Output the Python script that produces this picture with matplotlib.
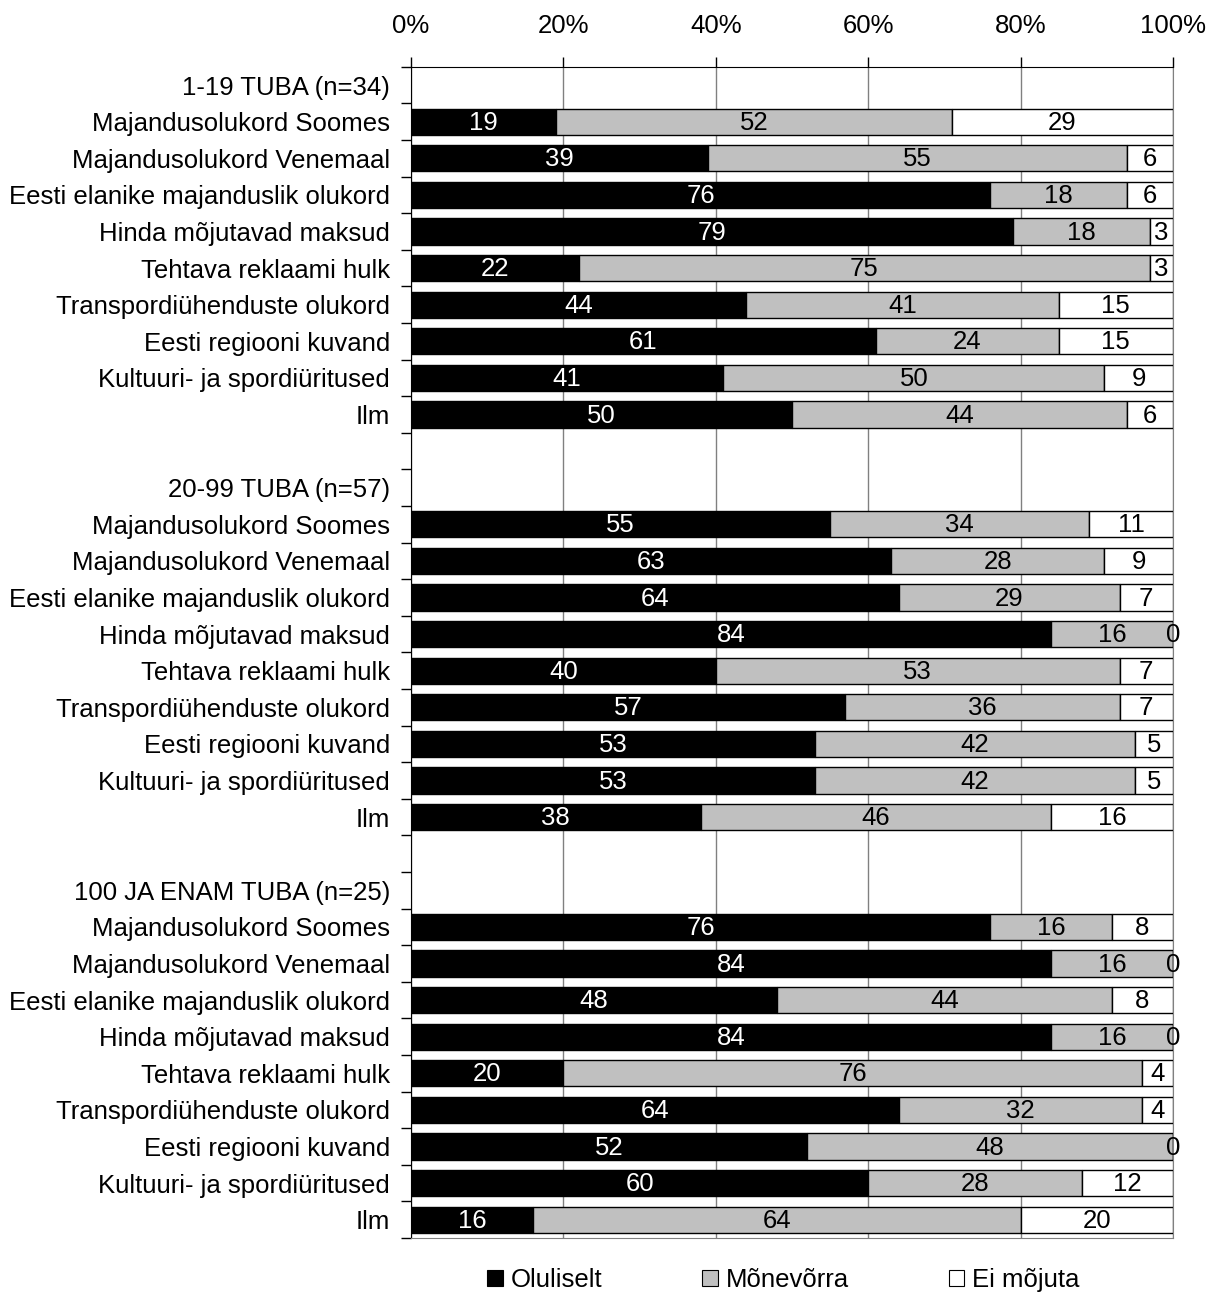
import matplotlib.pyplot as plt
from matplotlib.patches import Patch
import numpy as np

plt.rcParams['font.family'] = ['Liberation Sans', 'DejaVu Sans']

# data
groups = ['1-19 TUBA (n=34)', '20-99 TUBA (n=57)', '100 JA ENAM TUBA (n=25)']
items = ['Majandusolukord Soomes', 'Majandusolukord Venemaal',
         'Eesti elanike majanduslik olukord', 'Hinda mõjutavad maksud',
         'Tehtava reklaami hulk', 'Transpordiühenduste olukord',
         'Eesti regiooni kuvand', 'Kultuuri- ja spordiüritused', 'Ilm']
series_names = ['Oluliselt', 'Mõnevõrra', 'Ei mõjuta']

oluliselt = [[19, 39, 76, 79, 22, 44, 61, 41, 50],
             [55, 63, 64, 84, 40, 57, 53, 53, 38],
             [76, 84, 48, 84, 20, 64, 52, 60, 16]]
monevorra = [[52, 55, 18, 18, 75, 41, 24, 50, 44],
             [34, 28, 29, 16, 53, 36, 42, 42, 46],
             [16, 16, 44, 16, 76, 32, 48, 28, 64]]
ei_mojuta = [[29, 6, 6, 3, 3, 15, 15, 9, 6],
             [11, 9, 7, 0, 7, 7, 5, 5, 16],
             [8, 0, 8, 0, 4, 4, 0, 12, 20]]

colors = ['#000000', '#c0c0c0', '#ffffff']
text_colors = ['white', 'black', 'black']
fs = 18.5

# build rows: header, 9 items, blank between groups
labels = []
rows = []  # (ypos, values)
y = 0
for g in range(3):
    labels.append(groups[g])
    y += 1
    for i in range(len(items)):
        labels.append(items[i])
        rows.append((y, [oluliselt[g][i], monevorra[g][i], ei_mojuta[g][i]]))
        y += 1
    if g < 2:
        labels.append('')
        y += 1
n_rows = len(labels)

fig = plt.figure(figsize=(12.07, 12.95), dpi=100)
ax = fig.add_axes([0.3405, 0.044, 0.6313, 0.9044])

for ypos, vals in rows:
    left = 0
    for k, v in enumerate(vals):
        ax.barh(ypos, v, left=left, height=0.72, color=colors[k],
                edgecolor='black', linewidth=1.0, zorder=3)
        ax.text(left + v / 2, ypos + 0.03, str(v), ha='center', va='center',
                color=text_colors[k], fontsize=fs, zorder=4)
        left += v

ax.set_xlim(0, 100)
ax.set_ylim(n_rows - 0.5, -0.5)

ax.xaxis.tick_top()
ax.set_xticks(np.arange(0, 101, 20))
ax.set_xticklabels(['%d%%' % t for t in range(0, 101, 20)], fontsize=fs)
ax.tick_params(axis='x', direction='out', length=7, width=1, color='black', pad=14)

ax.set_yticks(np.arange(n_rows))
ax.set_yticklabels(labels, fontsize=fs)
ax.tick_params(axis='y', which='major', length=0, pad=15)
ax.set_yticks(np.arange(-0.5, n_rows, 1), minor=True)
ax.tick_params(axis='y', which='minor', length=7, width=1, direction='out')

ax.grid(axis='x', color='#808080', linewidth=1, zorder=0)
ax.spines['top'].set_color('black')
ax.spines['left'].set_color('black')
ax.spines['right'].set_color('#808080')
ax.spines['bottom'].set_color('#808080')
ax.set_axisbelow(True)

handles = [Patch(facecolor=c, edgecolor='black', linewidth=0.8) for c in colors]
fig.legend(handles, series_names, loc='center', bbox_to_anchor=(0.649, 0.0116),
           ncol=3, frameon=False, fontsize=fs, handlelength=0.6,
           handleheight=0.6, handletextpad=0.3, columnspacing=3.9,
           borderpad=0, borderaxespad=0)

fig.savefig('out.png', dpi=100)
